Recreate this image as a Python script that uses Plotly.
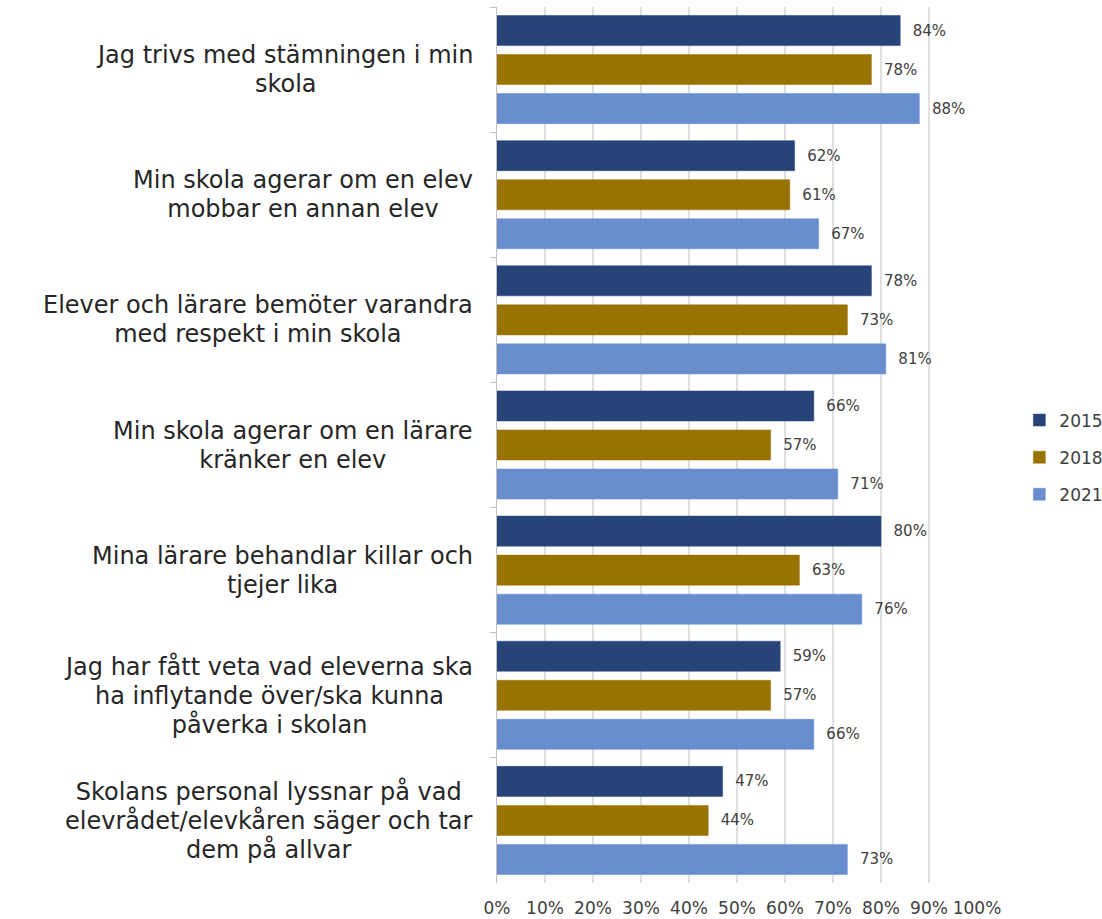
import plotly.graph_objects as go

# Survey statements (line breaks as they are laid out beside the bars)
categories = [
    "Jag trivs med stämningen i min<br>skola",
    "Min skola agerar om en elev<br>mobbar en annan elev",
    "Elever och lärare bemöter varandra<br>med respekt i min skola",
    "Min skola agerar om en lärare<br>kränker en elev",
    "Mina lärare behandlar killar och<br>tjejer lika",
    "Jag har fått veta vad eleverna ska<br>ha inflytande över/ska kunna<br>påverka i skolan",
    "Skolans personal lyssnar på vad<br>elevrådet/elevkåren säger och tar<br>dem på allvar",
]

years = ["2015", "2018", "2021"]
values_2015 = [0.84, 0.62, 0.78, 0.66, 0.80, 0.59, 0.47]
values_2018 = [0.78, 0.61, 0.73, 0.57, 0.63, 0.57, 0.44]
values_2021 = [0.88, 0.67, 0.81, 0.71, 0.76, 0.66, 0.73]

x_ticks = [0, 0.1, 0.2, 0.3, 0.4, 0.5, 0.6, 0.7, 0.8, 0.9, 1.0]

colors = ["#264478", "#997300", "#698ed0"]
series = [values_2015, values_2018, values_2021]

FONT = "DejaVu Sans"
NB = "\u00a0"
LABEL_SIZE = 24       # glyph size of the statement text
LINE_BASE = 22.2      # base size that sets the line pitch (1.3 em ≈ 29 px)

fig = go.Figure()
for year, vals, col in zip(years, series, colors):
    fig.add_trace(go.Bar(
        y=categories,
        x=vals,
        name=year,
        orientation="h",
        marker=dict(color=col, line=dict(color=col, width=0.5)),
        texttemplate=NB * 2 + "%{x:.0%}",
        textposition="outside",
        textfont=dict(family=FONT, size=15, color="#404040"),
        cliponaxis=False,
        legendgroup=year,
        hoverinfo="x+name",
    ))

# Category labels, centred per line, to the left of the axis
for cat in categories:
    styled = "<br>".join(
        f'<span style="font-size:{LABEL_SIZE}px">{line}</span>'
        for line in cat.split("<br>")
    )
    fig.add_annotation(
        x=0, xref="paper", y=cat, yref="y",
        text=styled, showarrow=False,
        xanchor="right", yanchor="middle", align="center",
        xshift=-22,
        font=dict(family=FONT, size=LINE_BASE, color="#262626"),
    )

fig.update_layout(
    width=1102, height=919,
    margin=dict(l=497, r=125, t=7, b=36, autoexpand=False),
    paper_bgcolor="white",
    plot_bgcolor="white",
    barmode="group",
    bargap=0.064,
    bargroupgap=0.23,
    font=dict(family=FONT, color="#404040"),
    legend=dict(
        xref="container", x=0.925, xanchor="left",
        yref="container", y=0.562, yanchor="top",
        traceorder="grouped",
        tracegroupgap=12,
        font=dict(family=FONT, size=17, color="#404040"),
        itemwidth=30,
    ),
    showlegend=True,
)

fig.update_xaxes(
    range=[0, 1],
    tickvals=x_ticks,
    tickformat=".0%",
    showgrid=True,
    gridcolor="#e0e0e0",
    gridwidth=2,
    zeroline=False,
    showline=False,
    ticks="",
    tickfont=dict(family=FONT, size=17, color="#404040"),
    ticklabelstandoff=13,
)

fig.update_yaxes(
    type="category",
    categoryorder="array",
    categoryarray=categories,
    autorange="reversed",
    showticklabels=False,
    showgrid=False,
    showline=True,
    linecolor="#bfbfbf",
    linewidth=1,
    ticks="outside",
    tickson="boundaries",
    ticklen=6,
    tickcolor="#bfbfbf",
)

fig.write_html("out.html")
